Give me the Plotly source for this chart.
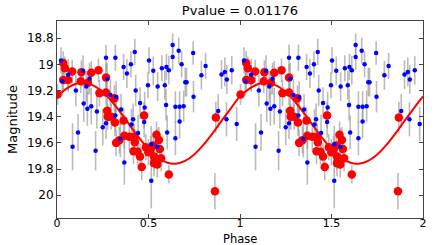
import plotly.graph_objects as go

# ---- data (phase 0..1; plotted twice, phase and phase+1) ----
blue_phase = [0.022, 0.029, 0.061, 0.085, 0.103, 0.115, 0.142, 0.146, 0.160, 0.166,
              0.178, 0.187, 0.211, 0.218, 0.250, 0.268, 0.268, 0.274, 0.292, 0.319,
              0.319, 0.323, 0.346, 0.350, 0.364, 0.368, 0.382, 0.404, 0.407, 0.416,
              0.425, 0.430, 0.443, 0.454, 0.476, 0.479, 0.497, 0.503, 0.515, 0.515,
              0.526, 0.548, 0.550, 0.573, 0.589, 0.596, 0.598, 0.602, 0.611, 0.632,
              0.632, 0.647, 0.647, 0.665, 0.670, 0.670, 0.681, 0.692, 0.701, 0.708,
              0.744, 0.746, 0.789, 0.812, 0.881, 0.899, 0.917, 0.926, 0.928, 0.955,
              0.982]
blue_mag = [18.97, 19.13, 19.08, 19.63, 19.20, 19.52, 19.05, 19.30, 19.17, 19.34,
            19.11, 19.32, 19.66, 19.36, 19.48, 18.95, 19.45, 19.11, 19.235, 18.95,
            19.39, 19.25, 19.57, 19.345, 19.02, 19.75, 19.07, 19.00, 19.46, 19.42,
            18.905, 19.20, 19.525, 19.295, 19.44, 19.33, 19.16, 18.97, 19.61, 19.89,
            19.05, 19.63, 19.17, 19.03, 19.16, 19.31, 19.02, 19.52, 19.045, 18.853,
            18.944, 19.325, 19.565, 18.896, 19.325, 19.436, 19.00, 19.32, 19.136, 19.136,
            18.914, 19.247, 19.083, 19.012, 19.356, 19.078, 19.058, 19.42, 19.116, 19.045,
            19.455]
blue_err = [0.10, 0.11, 0.12, 0.18, 0.12, 0.14, 0.12, 0.14, 0.12, 0.13,
            0.12, 0.14, 0.15, 0.13, 0.14, 0.10, 0.12, 0.12, 0.12, 0.10,
            0.12, 0.12, 0.14, 0.12, 0.10, 0.17, 0.11, 0.10, 0.12, 0.12,
            0.10, 0.12, 0.14, 0.12, 0.12, 0.12, 0.10, 0.10, 0.14, 0.21,
            0.11, 0.14, 0.11, 0.10, 0.11, 0.12, 0.10, 0.13, 0.11, 0.09,
            0.10, 0.12, 0.13, 0.10, 0.12, 0.13, 0.10, 0.12, 0.11, 0.11,
            0.09, 0.12, 0.11, 0.10, 0.13, 0.11, 0.11, 0.13, 0.11, 0.11,
            0.13]

red_phase = [0.003, 0.034, 0.043, 0.034, 0.061, 0.083, 0.133, 0.130, 0.169, 0.187,
             0.227, 0.268, 0.232, 0.268, 0.314, 0.274, 0.277, 0.296, 0.317, 0.364,
             0.476, 0.323, 0.341, 0.368, 0.395, 0.422, 0.425, 0.418, 0.440, 0.454,
             0.463, 0.485, 0.499, 0.512, 0.526, 0.530, 0.530, 0.544, 0.548, 0.557,
             0.562, 0.569, 0.611, 0.863, 0.868]
red_mag = [19.23, 18.99, 19.03, 19.12, 19.12, 19.055, 19.06, 19.13, 19.14, 19.065,
           19.045, 19.10, 19.22, 19.215, 19.26, 19.355, 19.40, 19.40, 19.445, 19.43,
           19.39, 19.60, 19.58, 19.545, 19.553, 19.553, 19.595, 19.664, 19.667, 19.705,
           19.785, 19.633, 19.671, 19.646, 19.621, 19.705, 19.755, 19.538, 19.765, 19.578,
           19.646, 19.717, 19.841, 19.97, 19.406]
red_err = [0.08, 0.09, 0.09, 0.09, 0.09, 0.09, 0.09, 0.09, 0.09, 0.09,
           0.09, 0.10, 0.10, 0.10, 0.10, 0.10, 0.10, 0.10, 0.10, 0.10,
           0.10, 0.10, 0.10, 0.10, 0.10, 0.10, 0.10, 0.10, 0.10, 0.10,
           0.10, 0.10, 0.10, 0.10, 0.10, 0.10, 0.10, 0.10, 0.10, 0.10,
           0.10, 0.10, 0.07, 0.14, 0.12]

model_phase = [0.00, 0.05, 0.10, 0.15, 0.20, 0.25, 0.30, 0.35, 0.40, 0.45, 0.50,
               0.55, 0.60, 0.65, 0.70, 0.75, 0.80, 0.85, 0.90, 0.95]
model_mag = [19.245, 19.188, 19.150, 19.141, 19.162, 19.211, 19.284, 19.373, 19.470, 19.564,
             19.647, 19.712, 19.750, 19.759, 19.738, 19.689, 19.616, 19.527, 19.430, 19.336]

x_ticks = [0, 0.5, 1, 1.5, 2]
x_tick_text = ["0", "0.5", "1", "1.5", "2"]
y_ticks = [18.8, 19.0, 19.2, 19.4, 19.6, 19.8, 20.0]
y_tick_text = ["18.8", "19", "19.2", "19.4", "19.6", "19.8", "20"]
title_text = "Pvalue = 0.01176"


def twice(vals, shift):
    return list(vals) + [v + shift for v in vals]


bx, by, be = twice(blue_phase, 1), blue_mag * 2, blue_err * 2
rx, ry, re_ = twice(red_phase, 1), red_mag * 2, red_err * 2
mx = twice(model_phase, 1) + [2.0]
my = model_mag * 2 + [model_mag[0]]

ERR_COL = "rgba(150,150,150,0.65)"
FONT = "DejaVu Sans"

fig = go.Figure()
# error bars (behind everything)
fig.add_trace(go.Scatter(x=bx + rx, y=by + ry, mode="markers",
                         marker=dict(size=1, opacity=0),
                         error_y=dict(type="data", array=be + re_, visible=True,
                                      color=ERR_COL, thickness=1.6, width=0),
                         hoverinfo="skip", showlegend=False))
fig.add_trace(go.Scatter(x=rx, y=ry, mode="markers",
                         marker=dict(color="#ff0000", size=8.5, line=dict(width=0)),
                         showlegend=False))
fig.add_trace(go.Scatter(x=mx, y=my, mode="lines", line=dict(color="#ff0000", width=2, shape="spline"),
                         showlegend=False))
fig.add_trace(go.Scatter(x=bx, y=by, mode="markers",
                         marker=dict(color="#0000ff", size=4.5, line=dict(width=0)),
                         showlegend=False))

axis_common = dict(showline=True, linecolor="#444444", linewidth=1, mirror="allticks",
                   ticks="inside", ticklen=4, tickcolor="#444444", showgrid=False,
                   zeroline=False)

PLOT_H = 245 - 21 - 27

fig.update_layout(
    width=436, height=245,
    margin=dict(l=57, r=9, t=21, b=27),
    paper_bgcolor="white", plot_bgcolor="white",
    title=dict(text=title_text, x=0.5, xref="paper", y=1 - 10 / 245, yanchor="middle",
               font=dict(family=FONT, size=13, color="#000000")),
    xaxis=dict(range=[0, 2], tickvals=x_ticks, ticktext=x_tick_text,
               ticklabelstandoff=-5, tickfont=dict(family=FONT, size=11, color="#000000"),
               **axis_common),
    yaxis=dict(range=[20.174, 18.669], tickvals=y_ticks, ticktext=y_tick_text,
               tickfont=dict(family=FONT, size=12, color="#000000"), **axis_common),
    annotations=[
        dict(text="Phase", x=0.5, xref="paper", y=-(230.5 - 218) / PLOT_H, yref="paper",
             showarrow=False, yanchor="top", borderpad=0,
             font=dict(family=FONT, size=11.5, color="#000000")),
        dict(text="Magnitude", x=-(57 - 12) / 370, xref="paper", y=0.5, yref="paper",
             showarrow=False, textangle=-90, xanchor="center",
             font=dict(family=FONT, size=13, color="#000000")),
    ],
)

fig.write_html("out.html", config={"displayModeBar": False},
               post_script="document.body.style.margin='0';document.body.style.padding='0';")
